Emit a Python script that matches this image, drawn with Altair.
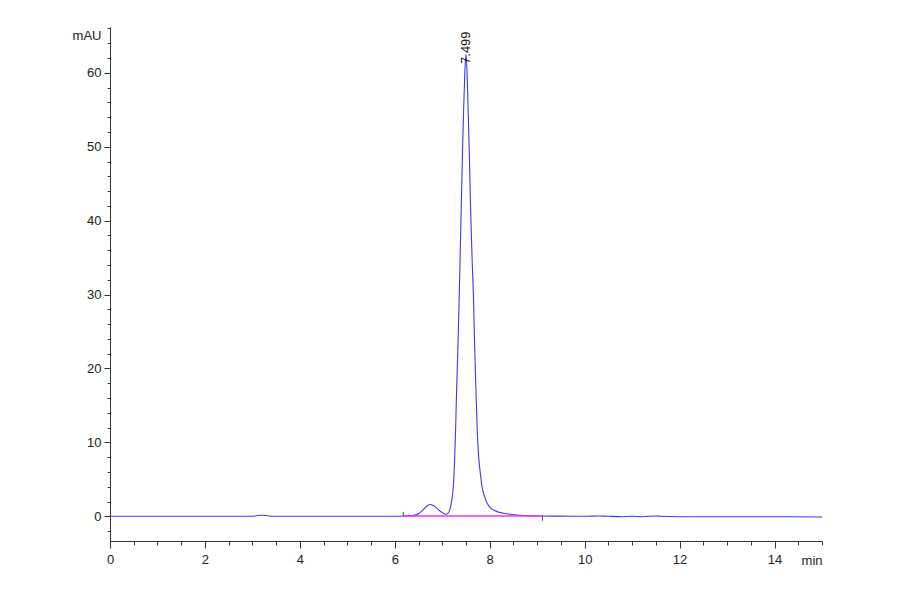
import pandas as pd
import altair as alt


# ── Chromatogram trace ────────────────────────────────────────────────────────

TIME = [
    0.0, 1.0, 2.0, 3.0, 3.1, 3.2, 3.3, 3.4, 4.0, 5.0, 6.0, 6.2, 6.4, 6.5,
    6.6, 6.7, 6.75, 6.8, 6.9, 7.0, 7.08, 7.12, 7.16, 7.20, 7.23, 7.26, 7.28,
    7.30, 7.33, 7.357, 7.39, 7.427, 7.45, 7.475, 7.499, 7.52, 7.545, 7.568,
    7.60, 7.63, 7.658, 7.68, 7.71, 7.74, 7.77, 7.80, 7.85, 7.90, 7.95, 8.00,
    8.10, 8.20, 8.35, 8.5, 8.7, 9.0, 9.5, 10.0, 10.3, 10.5, 10.8, 11.0, 11.2,
    11.5, 11.6, 12.0, 13.0, 14.0, 15.0,
]
MAU = [
    0.0, 0.0, 0.0, 0.0, 0.1, 0.15, 0.1, 0.0, 0.0, 0.0, 0.0, 0.05, 0.15, 0.35,
    0.9, 1.5, 1.6, 1.5, 1.0, 0.5, 0.27, 0.4, 0.9, 2.2, 3.8, 7.5, 11.5,
    16.5, 23.0, 29.6, 39.0, 49.5, 55.0, 60.0, 62.5, 60.5, 55.0, 49.5,
    41.0, 34.5, 29.6, 23.5, 17.0, 11.0, 7.8, 5.9, 3.6, 2.5, 1.75, 1.25,
    0.8, 0.55, 0.35, 0.22, 0.12, 0.05, 0.02, 0.0, 0.05, 0.0, -0.05, 0.0, -0.05,
    0.05, 0.0, -0.05, -0.05, -0.05, -0.1,
]

# integration baseline and its start / end marks
BASE_TIME = [6.18, 9.11]
BASE_MAU = [0.05, 0.05]
MARK_TIME = [6.18, 9.11]
MARK_LOW = [0.0, -0.6]
MARK_HIGH = [0.6, 0.0]

PEAK_RT = [7.499]
PEAK_TOP = [61.2]
PEAK_LABEL = ['7.499']

X_TICKS = [0, 0.5, 1, 1.5, 2, 2.5, 3, 3.5, 4, 4.5, 5, 5.5, 6, 6.5, 7, 7.5,
           8, 8.5, 9, 9.5, 10, 10.5, 11, 11.5, 12, 12.5, 13, 13.5, 14, 14.5, 15]
Y_TICKS = [-2, 0, 2, 4, 6, 8, 10, 12, 14, 16, 18, 20, 22, 24, 26, 28, 30, 32,
           34, 36, 38, 40, 42, 44, 46, 48, 50, 52, 54, 56, 58, 60, 62, 64, 66]

FONT = 'Liberation Sans Narrow, Liberation Sans, Arial'
AXIS_COLOR = '#333333'


# ── Chart ──────────────────────────────────────────────────────────────────────

trace = pd.DataFrame({'t': TIME, 'mau': MAU})
baseline = pd.DataFrame({'t': BASE_TIME, 'mau': BASE_MAU})
marks = pd.DataFrame({'t': MARK_TIME, 'mau': MARK_LOW, 'mau2': MARK_HIGH})
peak = pd.DataFrame({'t': PEAK_RT, 'mau': PEAK_TOP, 'label': PEAK_LABEL})

x_scale = alt.Scale(domain=[0, 15], nice=False, zero=False)
y_scale = alt.Scale(domain=[-3.34, 66.2], nice=False, zero=False)

x_axis = alt.Axis(
    values=X_TICKS,
    labelExpr="datum.value % 2 === 0 ? format(datum.value, 'd') : ''",
    tickSize={'condition': {'test': 'datum.value % 2 === 0', 'value': 7}, 'value': 4},
    labelPadding=5,
    labelOverlap=False,
    labelFlush=False,
    labelFont=FONT, labelFontSize=13, labelColor='#222222',
    domainColor=AXIS_COLOR, tickColor=AXIS_COLOR, grid=False,
    title='min', titleFont=FONT, titleFontSize=13, titleFontWeight='normal',
    titleColor='#222222', titleX=712, titleY=19, titleAlign='right',
    titleBaseline='middle',
)
y_axis = alt.Axis(
    values=Y_TICKS,
    labelExpr="datum.value % 10 === 0 ? format(datum.value, 'd') : ''",
    tickSize={'condition': {'test': 'datum.value % 10 === 0', 'value': 6}, 'value': 3},
    labelPadding=3,
    labelOverlap=False,
    labelFlush=False,
    labelFont=FONT, labelFontSize=13, labelColor='#222222',
    domainColor=AXIS_COLOR, tickColor=AXIS_COLOR, grid=False,
    title='mAU', titleFont=FONT, titleFontSize=13, titleFontWeight='normal',
    titleColor='#222222', titleAngle=0, titleX=-9, titleY=8,
    titleAlign='right', titleBaseline='middle',
)

X = alt.X('t:Q', scale=x_scale, axis=x_axis)
Y = alt.Y('mau:Q', scale=y_scale, axis=y_axis)

line = alt.Chart(trace).mark_line(
    color='#3c3cea', strokeWidth=1.1, interpolate='monotone'
).encode(x=X, y=Y)

base_line = alt.Chart(baseline).mark_line(
    color='#e838e8', strokeWidth=1.5
).encode(x=X, y=Y)

ticks = alt.Chart(marks).mark_rule(color='#444444', strokeWidth=1).encode(
    x=X, y=Y, y2='mau2:Q'
)

label = alt.Chart(peak).mark_text(
    angle=270, align='left', baseline='middle', font=FONT, fontSize=13,
    color='#111111'
).encode(x=X, y=Y, text='label:N')

chart = (
    alt.layer(line, base_line, ticks, label)
    .properties(
        width=712,
        height=514,
        autosize=alt.AutoSizeParams(type='none'),
        padding={'left': 102, 'top': 19, 'right': 60, 'bottom': 45},
        background='white',
    )
    .configure_view(stroke=None)
)

chart.save("out.html", embed_options={"renderer": "svg", "actions": False})
